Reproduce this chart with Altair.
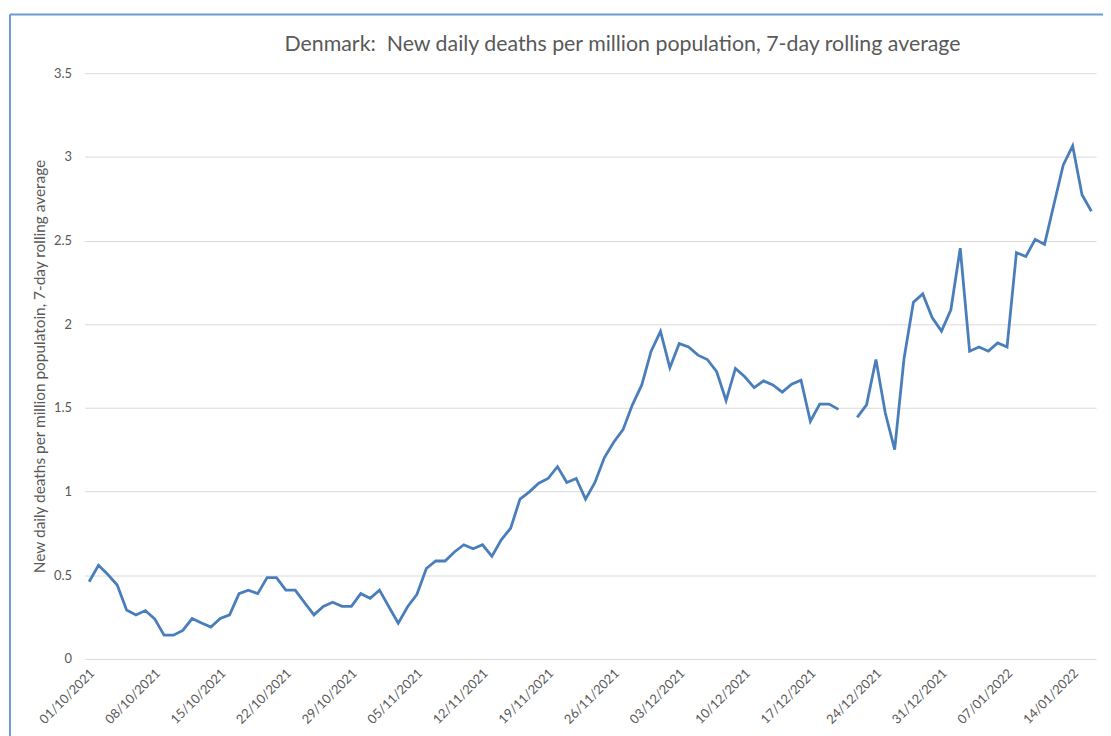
import datetime as dt
import altair as alt
import pandas as pd

start = dt.date(2021, 10, 1)
values = [
    0.461, 0.559, 0.504, 0.441, 0.292, 0.263, 0.289, 0.239, 0.142, 0.142,
    0.170, 0.241, 0.215, 0.190, 0.241, 0.263, 0.390, 0.411, 0.390, 0.486,
    0.486, 0.411, 0.411, 0.336, 0.263, 0.314, 0.338, 0.314, 0.314, 0.390,
    0.362, 0.411, 0.312, 0.214, 0.312, 0.386, 0.540, 0.585, 0.585, 0.639,
    0.682, 0.658, 0.682, 0.613, 0.712, 0.781, 0.955, 0.998, 1.050, 1.078,
    1.149, 1.054, 1.078, 0.955, 1.054, 1.202, 1.295, 1.370, 1.518, 1.637,
    1.839, 1.957, 1.740, 1.884, 1.864, 1.815, 1.789, 1.716, 1.544, 1.736,
    1.686, 1.621, 1.661, 1.637, 1.594, 1.641, 1.665, 1.420, 1.523, 1.523,
    1.491, None, 1.443, 1.518, 1.789, 1.469, 1.251, 1.795, 2.131, 2.181,
    2.040, 1.959, 2.086, 2.454, 1.839, 1.864, 1.839, 1.888, 1.864, 2.428,
    2.404, 2.507, 2.477, 2.715, 2.952, 3.066, 2.774, 2.675,
]
dates = [(start + dt.timedelta(days=i)).strftime("%d/%m/%Y") for i in range(len(values))]
tick_labels = [
    "01/10/2021", "08/10/2021", "15/10/2021", "22/10/2021", "29/10/2021",
    "05/11/2021", "12/11/2021", "19/11/2021", "26/11/2021", "03/12/2021",
    "10/12/2021", "17/12/2021", "24/12/2021", "31/12/2021", "07/01/2022",
    "14/01/2022",
]
y_ticks = [0, 0.5, 1, 1.5, 2, 2.5, 3, 3.5]
title_text = "Denmark:\u00a0 New daily deaths per million population, 7-day rolling average"
y_title = "New daily deaths per million populatoin, 7-day rolling average"

df = pd.DataFrame({"date": dates, "value": values})
single = pd.DataFrame({"t": [title_text]})

FONT = "Lato"
GREY = "#595959"
BORDER = "#6b9bd3"

line = alt.Chart(df).mark_line(
    color="#4a7ebb", strokeWidth=2.8, invalid="break-paths-show-domains"
).encode(
    x=alt.X(
        "date:O",
        sort=dates,
        scale=alt.Scale(type="point", domain=dates, padding=0.5),
        axis=alt.Axis(
            values=tick_labels,
            title=None,
            labelAngle=-45,
            labelAlign="right",
            labelBaseline="middle",
            labelFont=FONT,
            labelFontSize=13,
            labelColor=GREY,
            labelPadding=12,
            labelOffset=3,
            domain=False,
            ticks=False,
            grid=False,
        ),
    ),
    y=alt.Y(
        "value:Q",
        scale=alt.Scale(domain=[0, 3.5], nice=False),
        axis=alt.Axis(
            values=y_ticks,
            labelExpr="datum.value",
            title=y_title,
            titleFont=FONT,
            titleFontSize=15.5,
            titleFontWeight="normal",
            titleColor=GREY,
            titlePadding=6,
            labelFont=FONT,
            labelFontSize=13,
            labelColor=GREY,
            labelPadding=13,
            domain=False,
            ticks=False,
            gridColor="#d9d9d9",
            gridWidth=1,
        ),
    ),
)

title_mark = alt.Chart(single).mark_text(
    font=FONT,
    fontSize=21.5,
    fontWeight="normal",
    color=GREY,
    align="center",
    baseline="alphabetic",
).encode(text="t:N", x=alt.value(542), y=alt.value(-22))

border_top = alt.Chart(single).mark_rule(color=BORDER, strokeWidth=2).encode(
    x=alt.value(-75), x2=alt.value(1040), y=alt.value(-59)
)
border_left = alt.Chart(single).mark_rule(color=BORDER, strokeWidth=2).encode(
    x=alt.value(-75), y=alt.value(-59), y2=alt.value(680)
)

chart = alt.layer(line, title_mark, border_top, border_left).properties(
    width=1019,
    height=590,
    autosize=alt.AutoSizeParams(type="none"),
    padding={"left": 77, "top": 63, "right": 7, "bottom": 75},
).configure_view(stroke=None)

chart.save("out.html", embed_options={"renderer": "svg", "actions": False})
